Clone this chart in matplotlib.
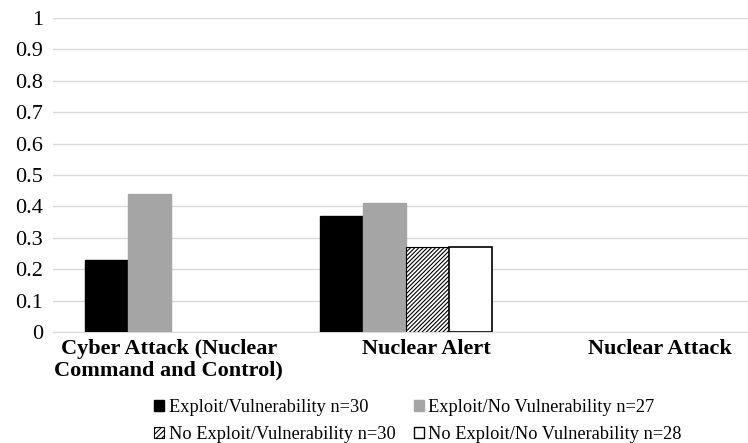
import matplotlib
matplotlib.use("Agg")
import matplotlib.pyplot as plt
from matplotlib.patches import Patch
from matplotlib.transforms import ScaledTranslation
import numpy as np

categories = ["Cyber Attack (Nuclear\nCommand and Control)", "Nuclear Alert", "Nuclear Attack"]
series = [
    "Exploit/Vulnerability n=30",
    "Exploit/No Vulnerability n=27",
    "No Exploit/Vulnerability n=30",
    "No Exploit/No Vulnerability n=28",
]
exploit_vuln = [0.23, 0.37, 0]
exploit_novuln = [0.44, 0.41, 0]
noexploit_vuln = [0, 0.27, 0]
noexploit_novuln = [0, 0.27, 0]
yticks = [0, 0.1, 0.2, 0.3, 0.4, 0.5, 0.6, 0.7, 0.8, 0.9, 1]

plt.rcParams['font.family'] = 'serif'
plt.rcParams['font.serif'] = ['Liberation Serif', 'Times New Roman', 'DejaVu Serif']
plt.rcParams['hatch.linewidth'] = 0.8

fig = plt.figure(figsize=(7.48, 4.43), dpi=100)
# plot area runs past the right edge, as in the cropped original
ax = fig.add_axes([53 / 748, 1 - 332.3 / 443, 706 / 748, 314.6 / 443])

x = np.arange(len(categories))
w = 0.183
styles = [
    dict(color='black', edgecolor='black'),
    dict(color='#a5a5a5', edgecolor='#a5a5a5'),
    dict(facecolor='white', edgecolor='black', hatch='////////', linewidth=0.8),
    dict(facecolor='white', edgecolor='black', linewidth=1.2),
]
values = [exploit_vuln, exploit_novuln, noexploit_vuln, noexploit_novuln]
for i, (vals, st) in enumerate(zip(values, styles)):
    v = np.array(vals, dtype=float)
    v[v == 0] = np.nan  # empty cells: no bar drawn
    ax.bar(x + (i - 1.5) * w, v, w, zorder=3, **st)

ax.set_xlim(-0.5, len(categories) - 0.5)
ax.set_ylim(0, 1)
ax.set_yticks(yticks)
ax.set_yticklabels([f"{t:g}" for t in yticks], fontsize=16)
ax.yaxis.grid(True, color='#d9d9d9', linewidth=1, zorder=0)
ax.set_axisbelow(True)
for s in ['top', 'right', 'left']:
    ax.spines[s].set_visible(False)
ax.spines['bottom'].set_color('#d9d9d9')
ax.spines['bottom'].set_zorder(1)
ax.tick_params(axis='x', length=0, pad=5)
ax.tick_params(axis='y', length=0, pad=7)

ax.set_xticks(x)
ax.set_xticklabels(categories, fontsize=16, fontweight='bold', linespacing=1.1)
shifts = [-2, 20, 19]
for lab, dx in zip(ax.get_xticklabels(), shifts):
    lab.set_transform(lab.get_transform() + ScaledTranslation(dx / 100, 0, fig.dpi_scale_trans))

handles = [
    Patch(facecolor='black', edgecolor='black'),
    Patch(facecolor='#a5a5a5', edgecolor='#a5a5a5'),
    Patch(facecolor='white', edgecolor='black', hatch='//////', linewidth=0.8),
    Patch(facecolor='white', edgecolor='black', linewidth=1.0),
]
order = [0, 2, 1, 3]  # legend fills by column; reorder so rows read across
fig.legend([handles[i] for i in order], [series[i] for i in order],
           loc='center', bbox_to_anchor=(418 / 748, 1 - 421 / 443),
           ncol=2, frameon=False, fontsize=13.2, handlelength=0.55, handleheight=0.55,
           handletextpad=0.25, columnspacing=1.0, labelspacing=0.55)

fig.savefig("out.png", dpi=100)
